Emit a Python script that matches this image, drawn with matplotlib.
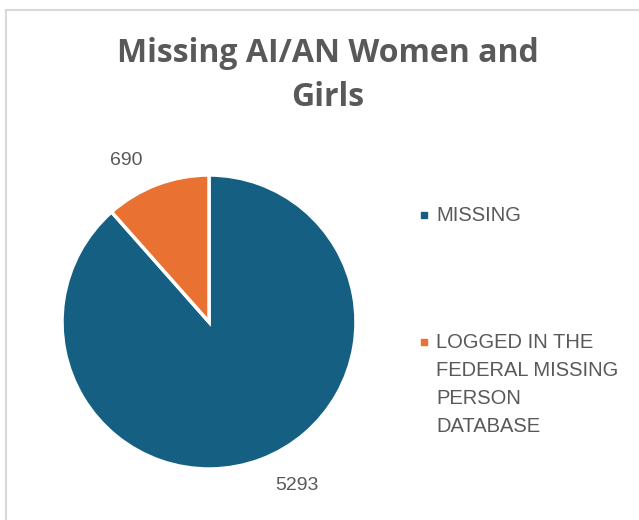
import matplotlib.pyplot as plt
from matplotlib.lines import Line2D

# data
labels = ["MISSING", "LOGGED IN THE\nFEDERAL MISSING\nPERSON\nDATABASE"]
values = [5293, 690]
colors = ["#156082", "#E97132"]

TEXT = "#595959"
W, H = 639, 520

fig = plt.figure(figsize=(W / 100, H / 100), dpi=100)
fig.patch.set_facecolor("white")

# chart frame (only top and left edges are visible in the crop)
fig.add_artist(Line2D([6 / W, 6 / W], [0, 1 - 10 / H], color="#d9d9d9", lw=1.5))
fig.add_artist(Line2D([6 / W, 1], [1 - 10 / H, 1 - 10 / H], color="#d9d9d9", lw=1.5))

title_kw = dict(ha="center", va="baseline", fontsize=23, fontweight="bold",
                color=TEXT, family="Open Sans")
fig.text(328 / W, 1 - 62 / H, "Missing AI/AN Women and", **title_kw)
fig.text(328 / W, 1 - 106 / H, "Girls", **title_kw)

# pie: centre (209, 322) px, radius 147 px
cx, cy, r = 209, 322, 147
ax = fig.add_axes([(cx - r) / W, 1 - (cy + r) / H, 2 * r / W, 2 * r / H])
wedges, texts = ax.pie(values, colors=colors, startangle=90, counterclock=False,
                       wedgeprops=dict(edgecolor="white", linewidth=2.5),
                       labels=[str(v) for v in values],
                       textprops=dict(color=TEXT, fontsize=14, family="Liberation Sans"))
# Excel "best fit" label spots
label_pos = [(0.6, -1.11), (-0.56, 1.10)]
for t, p in zip(texts, label_pos):
    t.set_position(p)
    t.set_ha("center")
    t.set_va("center")
ax.set_xlim(-1, 1)
ax.set_ylim(-1, 1)
ax.set_aspect("equal")
ax.axis("off")

# legend, drawn by hand so the marker sits at the first line
leg_y = [215, 342]
for lab, col, y in zip(labels, colors, leg_y):
    fig.add_artist(Line2D([423.5 / W], [1 - y / H], marker="s", markersize=5,
                          color=col, linestyle="none"))
    fig.text(436 / W, 1 - (y - 9) / H, lab, ha="left", va="top", fontsize=14.5,
             color=TEXT, family="Liberation Sans", linespacing=1.6)

fig.savefig("out.png", dpi=100)
